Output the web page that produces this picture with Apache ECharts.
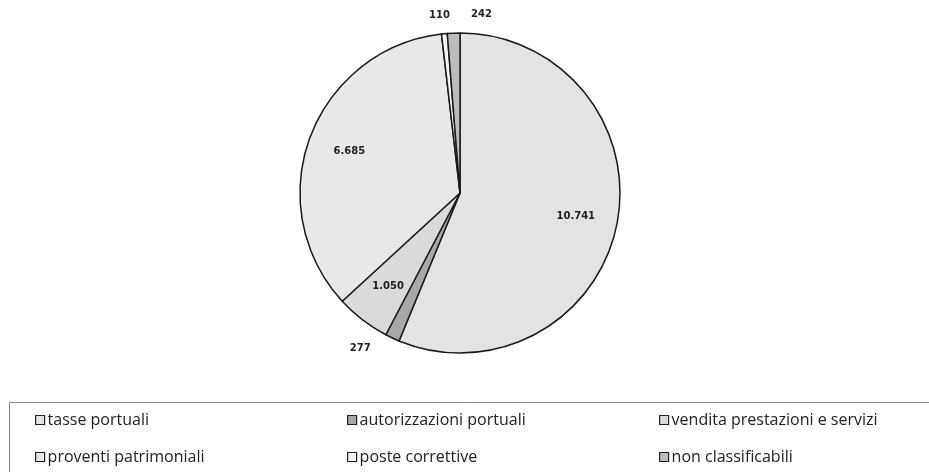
<!DOCTYPE html>
<html>
<head>
<meta charset="utf-8">
<script src="https://cdn.jsdelivr.net/npm/echarts@6/dist/echarts.min.js"></script>
<style>
  html, body { margin: 0; padding: 0; background: #fff; }
  #main { width: 929px; height: 472px; }
</style>
</head>
<body>
<div id="main"></div>
<script>
// dati
var categorie = ['tasse portuali', 'autorizzazioni portuali', 'vendita prestazioni e servizi',
                 'proventi patrimoniali', 'poste correttive', 'non classificabili'];
var valori = [10741, 277, 1050, 6685, 110, 242];
var colori = ['#e3e3e3', '#a8a8a8', '#dadada', '#e8e8e8', '#f4f4f4', '#bcbcbc'];
var etichettaInterna = [true, false, true, true, false, false];

// 10741 -> "10.741"
function formatta(v){
    return String(v).replace(/\B(?=(\d{3})+(?!\d))/g, '.');
}

// piccoli spostamenti delle etichette esterne, come le mette Excel
function spostamento(i){
    if (i == 1) return [-10, -4];
    if (i == 4) return [12, -2];
    if (i == 5) return [44, -3];
    return [0, 0];
}

window.addEventListener('load', function(){
    var myChart = echarts.init(document.getElementById('main'));

    var datiTorta = [];
    var datiEtichette = [];
    for (let i = 0; i < valori.length; i++) {
        datiTorta.push({
            value: valori[i],
            name: categorie[i],
            itemStyle: { color: colori[i] },
            label: { show: !etichettaInterna[i], offset: spostamento(i) }
        });
        datiEtichette.push({
            value: valori[i],
            name: categorie[i],
            label: { show: etichettaInterna[i] }
        });
    }

    var stileTesto = { fontFamily: 'DejaVu Sans', fontWeight: 'bold', fontSize: 10, color: '#222' };

    // una legenda per voce, griglia 3 x 2
    var legende = [];
    for (let i = 0; i < categorie.length; i++) {
        legende.push({
            left: 30 + (i % 3) * 312,
            top: i < 3 ? 407 : 444,
            icon: 'rect',
            itemWidth: 9,
            itemHeight: 9,
            selectedMode: false,
            itemStyle: { borderColor: '#222', borderWidth: 1.2 },
            textStyle: { fontFamily: 'Open Sans', fontSize: 16, color: '#222', padding: [0, 0, 0, -2] },
            data: [categorie[i]]
        });
    }

    var option = {
        animation: false,
        legend: legende,
        graphic: [{
            type: 'rect',
            left: 7,
            top: 400,
            shape: { width: 940, height: 90 },
            style: { fill: 'none', stroke: '#8a8a8a', lineWidth: 1 },
            silent: true
        }],
        series: [
            {
                type: 'pie',
                center: [460, 193],
                radius: [0, 160],
                startAngle: 90,
                clockwise: true,
                silent: true,
                avoidLabelOverlap: false,
                itemStyle: { borderColor: '#1a1a1a', borderWidth: 1.5 },
                label: Object.assign({
                    position: 'outside',
                    formatter: function(p){ return formatta(p.value); }
                }, stileTesto),
                labelLine: { show: false, length: 16, length2: 0 },
                data: datiTorta
            },
            {
                // serie trasparente solo per posizionare le etichette interne
                type: 'pie',
                center: [460, 193],
                radius: [0, 230],
                startAngle: 90,
                clockwise: true,
                silent: true,
                itemStyle: { color: 'rgba(0,0,0,0)', borderWidth: 0 },
                label: Object.assign({
                    position: 'inside',
                    formatter: function(p){ return formatta(p.value); }
                }, stileTesto),
                labelLine: { show: false },
                data: datiEtichette
            }
        ]
    };
    myChart.setOption(option);
});
</script>
</body>
</html>
